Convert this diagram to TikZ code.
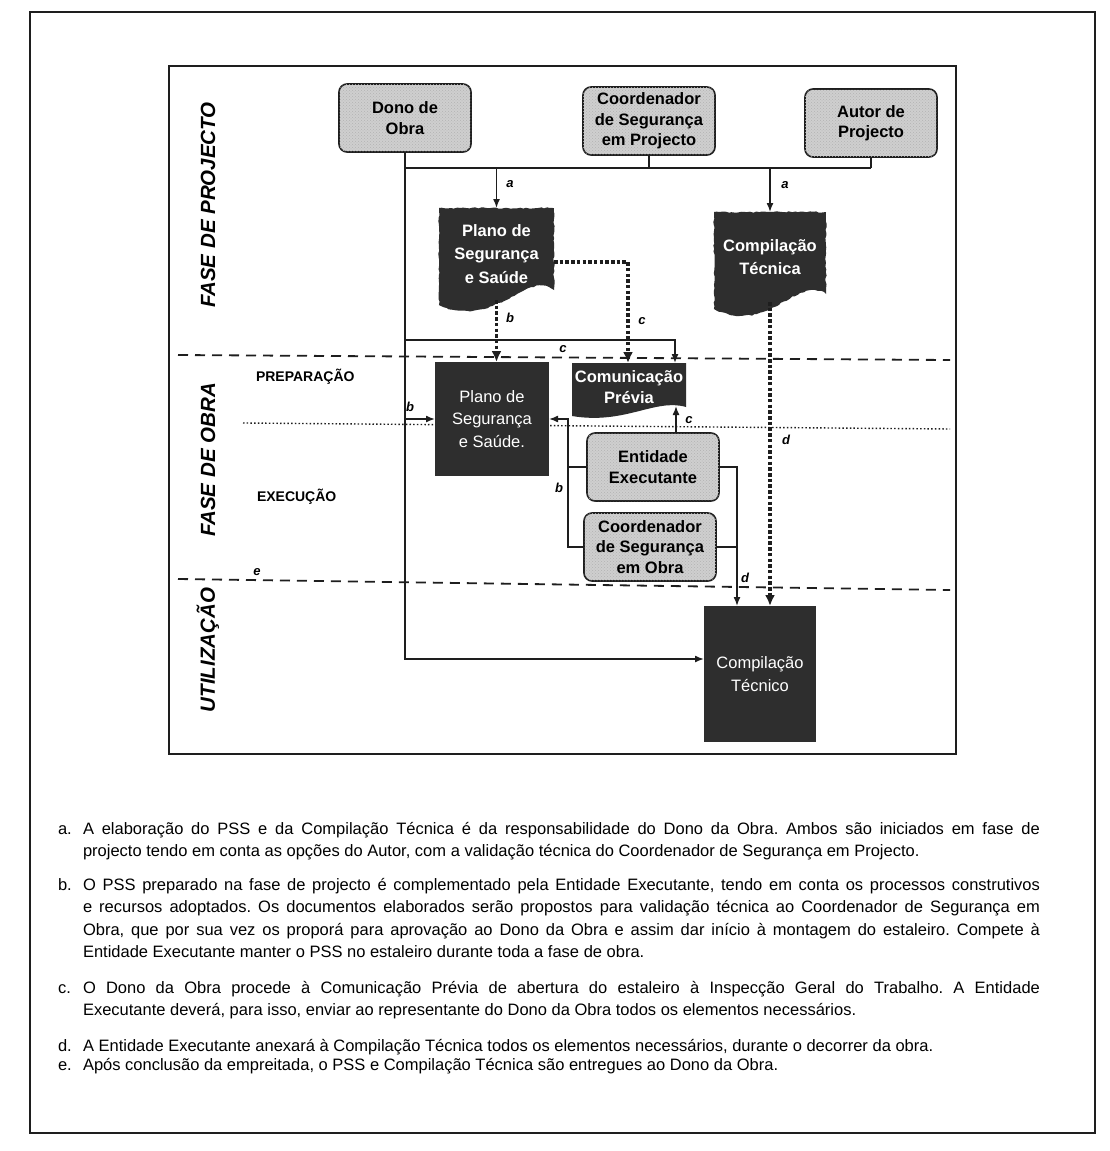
\documentclass[tikz,border=0pt]{standalone}
\usepackage{fontspec}
\setmainfont{Liberation Sans}
\usetikzlibrary{arrows.meta,decorations.pathmorphing,calc,patterns}
\pgfdeclarelayer{background}
\pgfsetlayers{background,main}
\definecolor{darkbox}{HTML}{2E2E2E}
\definecolor{lightbox}{HTML}{CFCFCF}
\definecolor{ink}{HTML}{1E1E1E}
\frenchspacing
\begin{document}
\begin{tikzpicture}[x=1pt,y=-1pt,
  every node/.style={inner sep=0pt, outer sep=0pt},
  graybox/.style={draw=ink, line width=1.6pt, rounded corners=8pt, fill=lightbox,
    postaction={pattern=crosshatch dots, pattern color=black!30},
    minimum width=132pt, minimum height=68pt, align=center,
    font=\fontsize{16.5}{20.5}\selectfont\bfseries},
  darktext/.style={align=center, text=white, font=\fontsize{16.5}{23.5}\selectfont\bfseries},
  darklight/.style={align=center, text=white, fill=darkbox, font=\fontsize{16.5}{22.5}\selectfont},
  darkshape/.style={fill=darkbox, decorate, decoration={random steps, segment length=3pt, amplitude=0.7pt}},
  conn/.style={line width=1.5pt, draw=ink},
  arr/.style={conn, -{Latex[length=9pt,width=7pt]}},
  thickdot/.style={line width=3.8pt, draw=ink, dash pattern=on 3.5pt off 2.2pt},
  thickarr/.style={thickdot, -{Latex[length=11pt,width=10pt]}},
  phasedash/.style={line width=1.8pt, draw=ink, dash pattern=on 10pt off 7pt},
  phasedot/.style={line width=1.4pt, draw=ink, dash pattern=on 1.5pt off 2.2pt},
  lbl/.style={font=\fontsize{13}{13}\selectfont\bfseries\itshape},
  phase/.style={rotate=90, font=\fontsize{20.5}{20.5}\selectfont\bfseries\itshape},
  subphase/.style={anchor=west, font=\fontsize{14}{14}\selectfont\bfseries},
  captxt/.style={anchor=base west, font=\fontsize{16.5}{22}\selectfont},
]
\useasboundingbox (0,0) rectangle (1110,1151);

% frames
\draw[line width=1.3pt, ink] (30,12) rectangle (1095,1133);
\draw[line width=1.3pt, ink] (169,66) rectangle (956,754);

% top boxes
\node[graybox] (dono) at (405,118) {Dono de\\Obra};
\node[graybox] (coordP) at (649,121) {Coordenador\\de Segurança\\em Projecto};
\node[graybox] (autor) at (871,123) {Autor de\\Projecto};

% dark document nodes
\node[darktext, minimum width=115pt, minimum height=92pt] (plano1) at (496.5,254) {Plano de\\Segurança\\e Saúde};
\node[darktext, minimum width=112pt, minimum height=90pt] (comp1) at (770,257) {Compilação\\Técnica};
\node[darklight, minimum width=114pt, minimum height=114pt] (plano2) at (492,419) {Plano de\\Segurança\\e Saúde.};
\node[darktext, minimum width=114pt, minimum height=38pt, font=\fontsize{16.5}{21.5}\selectfont\bfseries] (comun) at (629,387) {Comunicação\\Prévia};
\node[darklight, minimum width=112pt, minimum height=136pt] (comp2) at (760,674) {Compilação\\Técnico};

% lower gray boxes
\node[graybox] (entid) at (653,467) {Entidade\\Executante};
\node[graybox] (coordO) at (650,547) {Coordenador\\de Segurança\\em Obra};

\begin{pgfonlayer}{background}
  \fill[white] (0,0) rectangle (1110,1151);
  \draw[phasedash] (178,355) -- (950,360);
  \draw[phasedot] (243,423) -- (950,429);
  \draw[phasedash] (178,579) -- (950,590);
  \fill[darkshape] (439,208) -- (554,208) -- (554,290) .. controls (525,270) and (495,330) .. (439,305) -- cycle;
  \fill[darkshape] (714,212) -- (826,212) -- (826,294) .. controls (797,274) and (768,336) .. (714,309) -- cycle;
  \fill[darkbox] (572,363) -- (686,363) -- (686,407) .. controls (655,398) and (625,425) .. (572,416) -- cycle;
\end{pgfonlayer}

% top junction
\coordinate (jrow) at (0,168);
\coordinate (crow) at (0,340);
\coordinate (bx) at (568,0);
\coordinate (dxr) at (737,0);
\draw[conn] (dono.south |- jrow) -- (autor.south |- jrow);
\draw[conn] (coordP.south) -- (coordP.south |- jrow);
\draw[conn] (autor.south) -- (autor.south |- jrow);
\draw[arr] (dono.south) |- ([yshift=15pt]comp2.west);

\draw[arr] (plano1.north |- jrow) -- (plano1.north);
\draw[arr] (comp1.north |- jrow) -- (comp1.north);
\node[lbl] (la1) at (510,184) {a};
\node[lbl] (la2) at (785,185) {a};

% dotted thick
\draw[thickarr] (plano1.south) -- (plano1.south |- plano2.north);
\node[lbl] (lb1) at (510,318) {b};
\draw[thickarr] ([yshift=-8pt]plano1.east) -| ([xshift=-1pt,yshift=5pt]comun.north);
\node[lbl] (lc1) at (642,321) {c};
\draw[thickarr] (comp1.south) -- (comp1.south |- comp2.north);
\node[lbl] (ld1) at (786,440) {d};

% thin c
\draw[arr] (dono.south |- crow) -| ([xshift=46pt,yshift=5pt]comun.north);
\node[lbl] (lc2) at (563,349) {c};
% thin b into plano2
\draw[arr] (dono.south |- plano2.west) -- (plano2.west);
\node[lbl] (lb2) at (410,407) {b};
% entidade to comunicacao
\draw[arr] ([xshift=23pt]entid.north) -- ([xshift=23pt]entid.north |- comun.south);
\node[lbl] (lc3) at (689,420) {c};
% left b
\draw[conn] (entid.west) -- (entid.west -| bx);
\draw[arr] (coordO.west) -| (bx |- plano2.east) -- (plano2.east);
\node[lbl] (lb3) at (559,488) {b};
% right d
\draw[conn] (coordO.east) -- (coordO.east -| dxr);
\draw[arr] (entid.east) -| (dxr |- comp2.north);
\node[lbl] (ld2) at (745,578) {d};

% phase labels
\node[phase] (ph1) at (208,205) {FASE DE PROJECTO};
\node[phase] (ph2) at (208,460) {FASE DE OBRA};
\node[phase] (ph3) at (208,650) {UTILIZAÇÃO};
\node[subphase] (prep) at (256,377) {PREPARAÇÃO};
\node[subphase] (exec) at (257,497) {EXECUÇÃO};
\node[lbl] (le) at (257,572) {e};

% caption
\node[captxt] (ka) at (58,834) {a.};
\node[captxt] (a1) at (83,834) {\makebox[957pt][s]{A elaboração do PSS e da Compilação Técnica é da responsabilidade do Dono da Obra. Ambos são iniciados em fase de}};
\node[captxt] (a2) at (83,856) {projecto tendo em conta as opções do Autor, com a validação técnica do Coordenador de Segurança em Projecto.};
\node[captxt] (kb) at (58,890) {b.};
\node[captxt] (b1) at (83,890) {\makebox[957pt][s]{O PSS preparado na fase de projecto é complementado pela Entidade Executante, tendo em conta os processos construtivos}};
\node[captxt] (b2) at (83,912) {\makebox[957pt][s]{e recursos adoptados. Os documentos elaborados serão propostos para validação técnica ao Coordenador de Segurança em}};
\node[captxt] (b3) at (83,935) {\makebox[957pt][s]{Obra, que por sua vez os proporá para aprovação ao Dono da Obra e assim dar início à montagem do estaleiro. Compete à}};
\node[captxt] (b4) at (83,957) {Entidade Executante manter o PSS no estaleiro durante toda a fase de obra.};
\node[captxt] (kc) at (58,993) {c.};
\node[captxt] (c1) at (83,993) {\makebox[957pt][s]{O Dono da Obra procede à Comunicação Prévia de abertura do estaleiro à Inspecção Geral do Trabalho. A Entidade}};
\node[captxt] (c2) at (83,1015) {Executante deverá, para isso, enviar ao representante do Dono da Obra todos os elementos necessários.};
\node[captxt] (kd) at (58,1051) {d.};
\node[captxt] (d1) at (83,1051) {A Entidade Executante anexará à Compilação Técnica todos os elementos necessários, durante o decorrer da obra.};
\node[captxt] (ke) at (58,1070) {e.};
\node[captxt] (e1) at (83,1070) {Após conclusão da empreitada, o PSS e Compilação Técnica são entregues ao Dono da Obra.};
\end{tikzpicture}
\end{document}
